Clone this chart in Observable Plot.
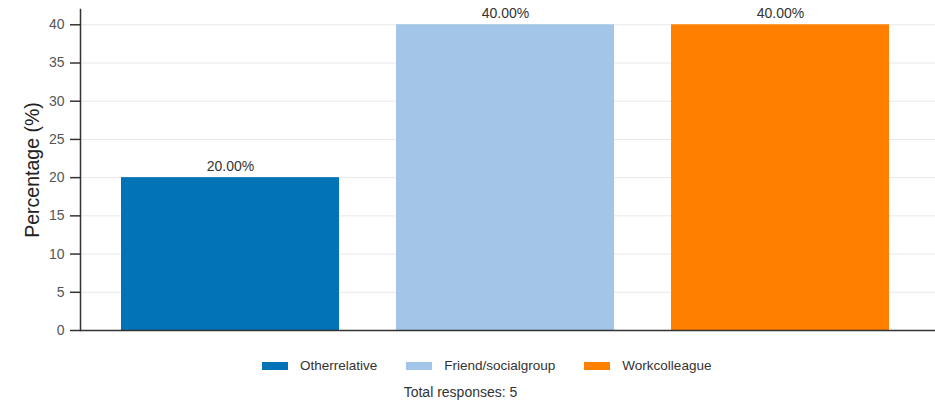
<!DOCTYPE html>
<html>
<head>
<meta charset="utf-8">
<script src="https://cdn.jsdelivr.net/npm/d3@7"></script>
<script src="https://cdn.jsdelivr.net/npm/@observablehq/plot@0.6"></script>
<style>
  body { margin: 0; background: #fff; font-family: "Liberation Sans", Arial, sans-serif; }
  #wrap { position: relative; width: 935px; height: 403px; }
  #legend { position: absolute; top: 358px; left: 262px; display: flex; align-items: center; font-size: 13.5px; color: #333; white-space: nowrap; }
  .sw { display: inline-block; width: 26px; height: 8px; margin-right: 12px; }
  .item { display: flex; align-items: center; margin-right: 29px; }
  #caption { position: absolute; top: 384px; left: 0; width: 921px; text-align: center; font-size: 14px; color: #333; }
</style>
</head>
<body>
<div id="wrap">
  <div id="chart"></div>
  <div id="legend"></div>
  <div id="caption"></div>
</div>
<script>
const categories = ["Otherrelative", "Friend/socialgroup", "Workcolleague"];
const values = [20, 40, 40];
const colors = ["#0173b6", "#a2c5e8", "#ff7f00"];
const yTicks = [0, 5, 10, 15, 20, 25, 30, 35, 40];
const yLabel = "Percentage (%)";
const captionText = "Total responses: 5";

const data = categories.map((c, i) => ({category: c, value: values[i], label: values[i].toFixed(2) + "%"}));

const chart = Plot.plot({
  width: 935,
  height: 340,
  marginLeft: 80,
  marginRight: 0,
  marginTop: 9,
  marginBottom: 10,
  style: {fontFamily: "Liberation Sans, Arial, sans-serif", fontSize: "14px", color: "#555"},
  x: {domain: categories, paddingInner: 0.2087, paddingOuter: 0, insetLeft: 40, insetRight: 46, axis: null},
  y: {domain: [0, 42], ticks: yTicks, label: null},
  color: {domain: categories, range: colors},
  marks: [
    Plot.gridY(yTicks, {stroke: "#e8e8e8", strokeOpacity: 1}),
    Plot.barY(data, {x: "category", y: "value", fill: "category"}),
    Plot.text(data, {x: "category", y: "value", text: "label", lineAnchor: "bottom", dy: -7, fontSize: 14, fill: "#333"}),
    Plot.axisY({ticks: yTicks, tickSize: 10, tickPadding: 6, fontSize: 14, label: null, stroke: "#333", strokeWidth: 1.5, fill: "#555"}),
    Plot.frame({anchor: "left", stroke: "#333", strokeWidth: 1.5}),
    Plot.ruleY([0], {stroke: "#333", strokeWidth: 1.5}),
    Plot.text([yLabel], {frameAnchor: "left", dx: -48, rotate: -90, textAnchor: "middle", fontSize: 19.5, fill: "#222", text: d => d})
  ]
});
document.getElementById("chart").appendChild(chart);

const legend = document.getElementById("legend");
categories.forEach((c, i) => {
  const it = document.createElement("div");
  it.className = "item";
  const sw = document.createElement("span");
  sw.className = "sw";
  sw.style.background = colors[i];
  it.appendChild(sw);
  it.appendChild(document.createTextNode(c));
  legend.appendChild(it);
});
document.getElementById("caption").textContent = captionText;
</script>
</body>
</html>
